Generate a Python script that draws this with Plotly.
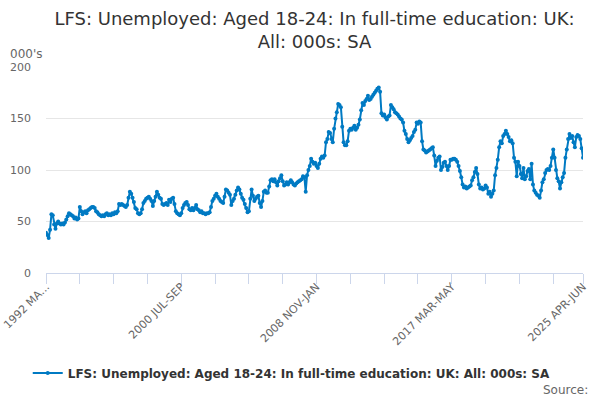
import plotly.graph_objects as go

title_text = "LFS: Unemployed: Aged 18-24: In full-time education: UK:<br>All: 000s: SA"
series_name = "LFS: Unemployed: Aged 18-24: In full-time education: UK: All: 000s: SA"

quarters = ["MAR-MAY", "APR-JUN", "MAY-JUL", "JUN-AUG", "JUL-SEP", "AUG-OCT",
            "SEP-NOV", "OCT-DEC", "NOV-JAN", "DEC-FEB", "JAN-MAR", "FEB-APR"]
start_year = 1992

values = [
    39, 37, 34, 42, 57, 56, 47, 43, 48, 50,
    48, 47, 48, 47, 49, 52, 55, 58, 57, 56,
    55, 53, 54, 52, 53, 64, 60, 57, 59, 60,
    58, 61, 62, 63, 64, 64, 63, 60, 59, 57,
    56, 55, 56, 55, 57, 58, 56, 57, 56, 58,
    57, 59, 58, 60, 67, 66, 67, 66, 65, 64,
    66, 73, 79, 77, 73, 69, 63, 62, 58, 57,
    58, 62, 68, 70, 72, 73, 74, 72, 70, 65,
    70, 74, 79, 76, 73, 72, 67, 66, 67, 68,
    66, 71, 69, 72, 73, 67, 60, 58, 57, 56,
    58, 63, 66, 68, 69, 66, 62, 61, 63, 61,
    63, 66, 62, 61, 59, 60, 58, 58, 57, 58,
    58, 59, 64, 70, 72, 75, 77, 74, 72, 70,
    69, 68, 74, 81, 80, 78, 76, 66, 70, 72,
    76, 80, 83, 81, 77, 73, 71, 67, 63, 59,
    60, 72, 81, 75, 70, 72, 74, 75, 68, 64,
    70, 79, 80, 78, 78, 84, 90, 91, 89, 91,
    88, 85, 89, 92, 95, 89, 85, 86, 88, 86,
    88, 90, 88, 86, 85, 87, 88, 89, 90, 91,
    94, 93, 79, 95, 100, 104, 111, 108, 106, 107,
    104, 102, 106, 111, 113, 112, 114, 127, 130, 137,
    136, 130, 127, 140, 150, 156, 164, 163, 161, 142,
    127, 124, 124, 128, 138, 140, 139, 141, 143, 139,
    141, 144, 149, 158, 165, 163, 167, 169, 172, 168,
    169, 171, 173, 175, 177, 179, 180, 176, 155, 153,
    154, 151, 149, 152, 153, 163, 161, 159, 156, 155,
    154, 152, 150, 149, 146, 138, 135, 130, 127, 129,
    131, 133, 137, 139, 146, 145, 147, 146, 128, 120,
    119, 117, 118, 119, 120, 121, 122, 114, 104, 109,
    112, 113, 100, 103, 107, 108, 104, 100, 104, 110,
    110, 111, 111, 110, 108, 104, 99, 93, 86, 83,
    84, 82, 83, 84, 85, 90, 93, 98, 102, 96,
    86, 82, 83, 81, 82, 85, 83, 77, 79, 74,
    77, 80, 95, 102, 110, 122, 128, 126, 133, 135,
    138, 135, 132, 128, 129, 126, 112, 108, 94, 108,
    104, 96, 92, 102, 91, 94, 99, 101, 91, 106,
    86, 80, 78, 76, 75, 73, 80, 88, 91, 97,
    100, 101, 100, 104, 112, 120, 112, 100, 92, 89,
    82, 88, 93, 97, 112, 120, 130, 135, 131, 133,
    127, 122, 132, 134, 133, 130, 121, 112,
]

periods = []
for k in range(len(values)):
    m = 2 + k  # months since Jan of start_year (March = 2)
    periods.append(f"{start_year + m // 12} {quarters[k % 12]}")

label_positions = [0, 100, 200, 300, 397]
label_texts = ["1992 MA...", "2000 JUL-SEP", "2008 NOV-JAN", "2017 MAR-MAY", "2025 APR-JUN"]
minor_tick_positions = list(range(0, 397, 25)) + [397]

tickvals = sorted(set(minor_tick_positions + label_positions))
ticktext = [label_texts[label_positions.index(v)] if v in label_positions else "" for v in tickvals]

x_idx = list(range(len(values)))

fig = go.Figure()
fig.add_trace(go.Scatter(
    x=x_idx, y=values, mode="lines+markers", name=series_name,
    customdata=periods,
    hovertemplate="%{customdata}: %{y}<extra></extra>",
    line=dict(color="#007ac3", width=2),
    marker=dict(color="#007ac3", size=4),
))

font_family = "DejaVu Sans, Verdana, Arial, sans-serif"

fig.update_layout(
    width=600, height=400,
    paper_bgcolor="white", plot_bgcolor="white",
    margin=dict(l=46, r=17, t=67, b=127, autoexpand=False),
    font=dict(family=font_family, color="#666666", size=11),
    title=dict(text=title_text, x=0.5, xanchor="center", xref="paper",
               y=0.9375, yanchor="top", yref="container", automargin=False,
               font=dict(size=18, color="#333333", family=font_family)),
    showlegend=True,
    legend=dict(orientation="h", x=-0.034, xanchor="left", y=-0.415, yanchor="top",
                font=dict(size=12, color="#333333", family=font_family, weight="bold")),
    xaxis=dict(
        range=[0, 397], tickmode="array", tickvals=tickvals, ticktext=ticktext,
        tickangle=-45, ticks="outside", ticklen=10, tickcolor="#ccd6eb",
        showline=True, linecolor="#ccd6eb", linewidth=1, automargin=False,
        ticklabelstandoff=-8,
        showgrid=False, zeroline=False, tickfont=dict(size=11, color="#666666"),
    ),
    yaxis=dict(
        range=[0, 200], tickvals=[0, 50, 100, 150, 200], automargin=False,
        showgrid=True, gridcolor="#e6e6e6", gridwidth=1,
        zeroline=False, showline=False, ticks="",
        ticklabelstandoff=14, tickfont=dict(size=11, color="#666666"),
    ),
    annotations=[
        dict(text="000's", xref="paper", yref="paper", x=-0.071, y=1.064,
             xanchor="left", yanchor="middle", showarrow=False,
             font=dict(size=12, color="#666666")),
        dict(text="Source:", xref="paper", yref="paper", x=1.013, y=-0.568,
             xanchor="right", yanchor="middle", showarrow=False,
             font=dict(size=12, color="#666666")),
    ],
)

fig.write_html("out.html", config={"displayModeBar": False},
               post_script="document.body.style.margin='0px';")
